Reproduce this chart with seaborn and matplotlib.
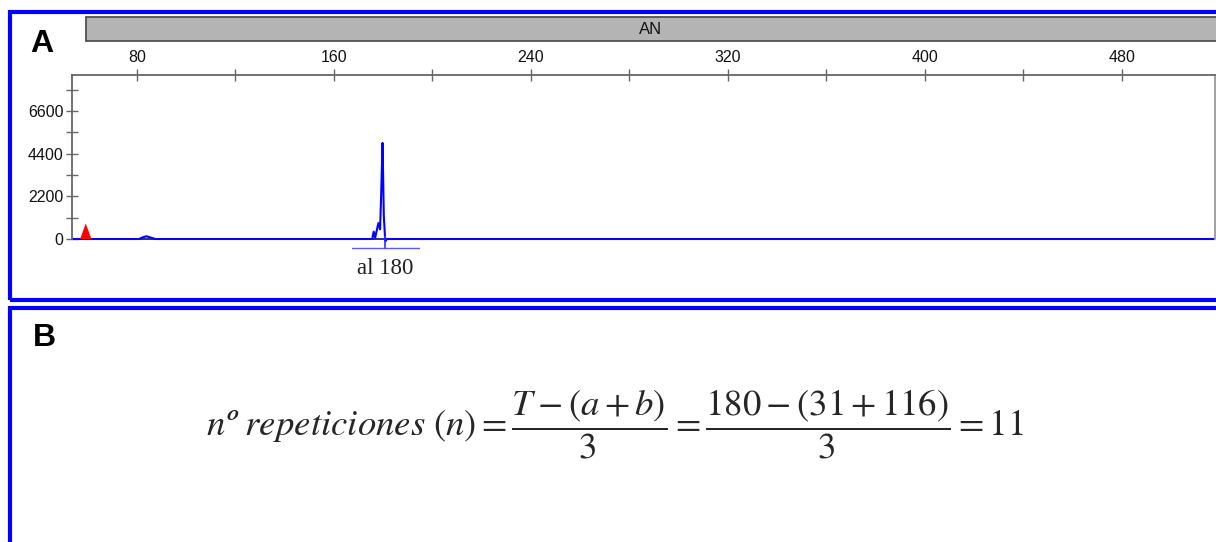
import numpy as np
import matplotlib
matplotlib.use("Agg")
import matplotlib.pyplot as plt
from matplotlib.patches import Rectangle
import seaborn as sns

# electropherogram trace (size in bp, signal in RFU)
trace_size = [53.7, 81.0, 82.5, 84.0, 85.5, 87.5, 175.6, 176.2, 176.8, 177.4,
              178.1, 178.8, 179.3, 179.8, 180.3, 180.9, 181.6, 517.8]
trace_rfu = [0, 0, 90, 140, 80, 0, 0, 380, 60, 420,
             820, 500, 2600, 4950, 1200, -120, 0, 0]

# size-standard peak (red)
std_size = [57.0, 59.3, 61.6]
std_rfu = [0, 800, 0]

# allele call
allele_size = 180.9
allele_label = "al 180"
bin_label = "AN"

x_major = [80, 160, 240, 320, 400, 480]
x_minor = [120, 200, 280, 360, 440]
y_major = [0, 2200, 4400, 6600]
y_minor = [1100, 3300, 5500, 7700]

W, H = 1216, 542


def fx(px):
    return px / W


def fy(py):
    return 1 - py / H


sns.set_style("white")
plt.rcParams['font.family'] = ['Liberation Sans', 'DejaVu Sans']

fig = plt.figure(figsize=(12.16, 5.42), dpi=100)

# panel A axes
ax = fig.add_axes([fx(72), fy(252), fx(1215) - fx(72), fy(75) - fy(252)])
ax.axhline(0, color="#1c1c80", lw=1.3, zorder=1)
sns.lineplot(x=trace_size, y=trace_rfu, ax=ax, color="#0000ff", lw=1.5,
             estimator=None, sort=False)
ax.fill(std_size, std_rfu, color="#ff0000", lw=0, zorder=3)

ax.set_xlim(53.7, 517.8)
ax.set_ylim(-670, 8450)

ax.xaxis.tick_top()
ax.set_xticks(x_major)
ax.set_xticks(x_minor, minor=True)
ax.set_yticks(y_major)
ax.set_yticks(y_minor, minor=True)
ax.tick_params(axis="x", which="both", direction="inout", length=8, width=1,
               color="#666666", labelsize=11.5, labelcolor="#111111", pad=3)
ax.tick_params(axis="y", which="both", direction="inout", length=8, width=1,
               color="#666666", labelsize=11.5, labelcolor="#111111", pad=2)
ax.tick_params(axis="x", which="both", top=True, bottom=False)
ax.tick_params(axis="y", which="both", left=True, right=False)

for side in ["top", "left", "right"]:
    ax.spines[side].set_color("#666666")
    ax.spines[side].set_linewidth(1.3)
ax.spines["left"].set_bounds(0, 8450)
ax.spines["right"].set_bounds(0, 8450)
ax.spines["right"].set_color("#999999")
ax.spines["bottom"].set_visible(False)
ax.set_xlabel("")
ax.set_ylabel("")

# allele marker under the peak
ax.plot([allele_size - 13.5, allele_size + 13.5], [-460, -460], color="#5a5aff",
        lw=1, clip_on=False)
ax.plot([allele_size, allele_size], [150, -460], color="#3030ff", lw=1.2,
        clip_on=False)
ax.text(allele_size, -1500, allele_label, ha="center", va="center",
        fontsize=16.5, family="Liberation Serif", color="#222222", clip_on=False)

# bin bar on top
fig.patches.append(Rectangle((fx(86), fy(41)), 1.05 - fx(86), fy(17) - fy(41),
                             transform=fig.transFigure, facecolor="#b4b4b4",
                             edgecolor="#505050", lw=1.3))
fig.text(fx(651), fy(30), bin_label, ha="center", va="center", fontsize=12,
         color="#111111")

# panel frames
fig.patches.append(Rectangle((fx(10), fy(300)), 1.05, fy(12) - fy(300),
                             transform=fig.transFigure, fill=False,
                             edgecolor="#0000ff", lw=3, zorder=10))
fig.patches.append(Rectangle((fx(10), -0.05), 1.05, fy(308) + 0.05,
                             transform=fig.transFigure, fill=False,
                             edgecolor="#0000ff", lw=3, zorder=10))

fig.text(fx(42), fy(44), "A", ha="center", va="center", fontsize=23,
         fontweight="bold", family="Liberation Sans", color="black")
fig.text(fx(44), fy(338), "B", ha="center", va="center", fontsize=23,
         fontweight="bold", family="Liberation Sans", color="black")

# panel B formula
plt.rcParams['mathtext.fontset'] = 'stix'
formula = (r"$n\mathit{º\ repeticiones}\ (n) = \dfrac{T-(a+b)}{3} = "
           r"\dfrac{180-(31+116)}{3} = 11$")
fig.text(fx(615), fy(424), formula, ha="center", va="center", fontsize=26.5)

fig.savefig("out.png", dpi=100)
